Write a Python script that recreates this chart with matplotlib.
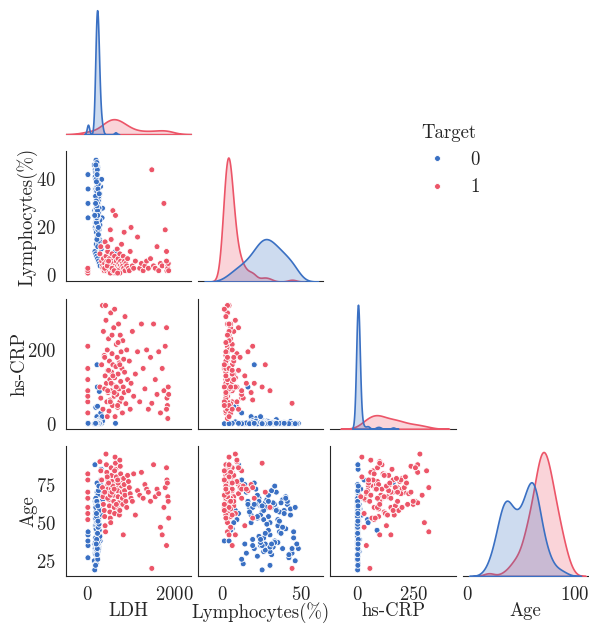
import numpy as np
import pandas as pd
import seaborn as sns
import matplotlib
matplotlib.use("Agg")
import matplotlib.pyplot as plt

# rows: LDH, Lymphocytes(%), hs-CRP, Age  -- Target 0
blue_rows = [
    (3, 42, 1, 27), (5, 24, 2, 35), (2, 1, 1, 38), (4, 30, 3, 42), (6, 36, 2, 44),
    (150, 46, 0.5, 25), (170, 44, 1, 30), (190, 48, 2, 33), (210, 47, 1, 36), (230, 45, 3, 40),
    (180, 43, 1.5, 55), (200, 41, 2, 62), (220, 39, 4, 58), (240, 38, 1, 65), (175, 36, 2, 48),
    (195, 35, 6, 52), (215, 34, 1, 70), (235, 33, 3, 38), (255, 32, 2, 34), (185, 31, 1, 29),
    (205, 30, 5, 31), (225, 29, 2, 45), (245, 28, 8, 60), (265, 27, 1, 63), (160, 27, 3, 36),
    (180, 26, 2, 40), (200, 25, 10, 57), (220, 24, 1, 61), (240, 23, 4, 66), (260, 22, 2, 68),
    (280, 21, 15, 72), (170, 20, 3, 33), (190, 19, 1, 35), (210, 18, 20, 55), (230, 17, 5, 60),
    (250, 16, 2, 64), (270, 15, 2, 70), (290, 14, 1, 75), (300, 12, 30, 78), (310, 11, 3, 85),
    (165, 10, 2, 88), (185, 9, 45, 52), (205, 8, 6, 58), (225, 7, 48, 50), (245, 6, 2, 46),
    (265, 5, 88, 45), (285, 4, 1, 38), (195, 13, 3, 23), (215, 22, 2, 28), (235, 26, 8, 31),
    (255, 29, 1, 54), (275, 34, 12, 59), (295, 37, 3, 63), (320, 40, 2, 67), (340, 28, 8, 65),
    (330, 24, 20, 55), (210, 31, 4, 60), (190, 33, 4, 62), (230, 35, 1, 37), (250, 38, 2, 33),
    (170, 41, 3, 64), (210, 43, 7, 59), (213, 20, 160, 76), (220, 16, 100, 62), (240, 14, 2, 36),
    (260, 19, 9, 39), (280, 23, 1, 41), (200, 27, 4, 32), (220, 30, 2, 34), (240, 32, 0.5, 63),
    (195, 28, 1, 60), (205, 26, 3, 58), (215, 25, 2, 35), (225, 24, 1, 37), (235, 29, 6, 68),
    (245, 31, 2, 71), (255, 33, 4, 74), (190, 36, 1, 57), (180, 22, 2, 53), (200, 18, 5, 50),
    (210, 15, 3, 30), (230, 12, 1, 26), (640, 10, 2, 56), (205, 45, 2, 44), (185, 40, 1, 66),
    (215, 37, 3, 43), (195, 23, 2, 64), (225, 21, 8, 62), (235, 19, 4, 60), (245, 17, 1, 57),
    (190, 40, 1, 46), (210, 35, 2, 48), (230, 30, 1, 50), (250, 26, 3, 52), (200, 22, 0.5, 54),
    (220, 44, 2, 33), (240, 38, 1, 47), (180, 33, 2, 37), (260, 28, 1, 49), (205, 24, 4, 39),
    (215, 42, 1, 29), (235, 36, 2, 51), (195, 31, 3, 36), (225, 27, 1, 43), (245, 20, 2, 62),
    (185, 46, 1, 60), (265, 34, 2, 58), (210, 29, 1, 64), (230, 25, 3, 61), (200, 39, 2, 56),
    (160, 25, 1, 19), (180, 30, 2, 22),
]

# Target 1
red_rows = [
    (0, 2, 120, 82), (0, 1, 60, 78), (0, 3, 210, 70), (0, 2, 90, 66), (0, 1, 150, 60),
    (0, 2, 30, 56), (0, 3, 75, 52), (280, 9, 100, 90), (300, 12, 70, 84), (320, 6, 160, 78),
    (340, 4, 320, 73), (350, 3, 40, 67), (360, 7, 250, 62), (380, 2, 185, 58), (390, 5, 95, 54),
    (400, 14, 130, 48), (410, 3, 320, 44), (420, 8, 280, 95), (430, 2, 110, 88), (440, 6, 60, 83),
    (450, 4, 200, 79), (460, 10, 145, 75), (470, 3, 85, 72), (480, 5, 230, 69), (490, 2, 35, 65),
    (500, 7, 170, 61), (510, 4, 120, 57), (520, 19, 65, 53), (530, 3, 300, 50), (540, 6, 90, 86),
    (550, 2, 140, 81), (560, 9, 190, 77), (570, 4, 50, 74), (580, 27, 160, 70), (590, 3, 105, 68),
    (600, 5, 260, 64), (610, 2, 75, 60), (620, 8, 125, 56), (630, 4, 20, 93), (640, 25, 100, 89),
    (650, 3, 155, 85), (660, 6, 215, 80), (670, 2, 80, 76), (680, 11, 180, 73), (690, 4, 45, 71),
    (700, 7, 135, 67), (710, 3, 270, 63), (720, 5, 95, 59), (730, 2, 165, 55), (740, 9, 60, 91),
    (750, 4, 240, 87), (760, 6, 115, 82), (770, 3, 195, 78), (780, 13, 70, 74), (790, 2, 150, 70),
    (800, 5, 30, 66), (810, 4, 225, 62), (820, 8, 100, 42), (830, 3, 175, 79), (840, 18, 85, 75),
    (850, 6, 140, 71), (860, 2, 290, 68), (880, 5, 55, 64), (900, 4, 200, 60), (920, 7, 120, 81),
    (940, 3, 90, 77), (960, 2, 170, 73), (980, 10, 40, 69), (1000, 20, 110, 66), (1030, 4, 250, 64),
    (1060, 3, 75, 82), (1100, 6, 135, 55), (1150, 16, 195, 71), (1200, 3, 60, 68), (1240, 5, 270, 83),
    (1280, 2, 150, 66), (1320, 4, 95, 75), (1360, 6, 200, 72), (1400, 3, 40, 70), (1450, 7, 180, 64),
    (1480, 44, 56, 20), (1520, 4, 270, 88), (1560, 3, 120, 67), (1600, 12, 80, 72), (1640, 2, 195, 69),
    (1680, 5, 30, 47), (1720, 4, 150, 42), (1760, 30, 90, 60), (1790, 19, 210, 73), (1820, 10, 260, 86),
    (1830, 2, 70, 78), (1840, 4, 50, 76), (1850, 3, 15, 67), (1860, 5, 100, 64), (1870, 2, 80, 53),
    (1820, 6, 40, 35), (540, 15, 110, 72), (460, 12, 90, 66), (620, 1, 310, 84), (700, 2, 220, 76),
    (390, 3, 180, 70), (520, 1, 60, 68), (580, 2, 130, 74), (660, 1, 100, 62), (450, 4, 20, 80),
    (740, 1, 160, 58), (560, 3, 240, 70), (610, 2, 85, 72), (480, 6, 145, 76), (690, 1, 50, 78),
]

columns = ["LDH", "Lymphocytes(%)", "hs-CRP", "Age"]
palette = {0: "#3a70c3", 1: "#ec5568"}

df0 = pd.DataFrame(blue_rows, columns=columns)
df0["Target"] = 0
df1 = pd.DataFrame(red_rows, columns=columns)
df1["Target"] = 1
df = pd.concat([df0, df1], ignore_index=True)

sns.set_style("white")
plt.rcParams["font.family"] = ["cmr10", "DejaVu Serif"]
plt.rcParams["mathtext.fontset"] = "cm"
plt.rcParams["axes.formatter.use_mathtext"] = True
plt.rcParams["font.size"] = 13.5
plt.rcParams["axes.labelsize"] = 13.5
plt.rcParams["xtick.labelsize"] = 13.5
plt.rcParams["ytick.labelsize"] = 13.5

g = sns.pairplot(df, hue="Target", palette=palette, corner=True, height=1.4,
                 plot_kws=dict(s=18, linewidth=0.6),
                 diag_kws=dict(linewidth=1.2))

fig = g.figure
fig.set_size_inches(5.89, 6.27)
fig.subplots_adjust(left=0.112, right=0.998, bottom=0.0813, top=0.9936,
                    wspace=0.056, hspace=0.131)

xlims = [(-505, 2390), (-15.6, 63.9), (-121, 440), (-4.5, 111.8)]
ylims = [None, (-2.5, 51.7), (-12.7, 338.7), (15, 100.4)]
for j, lim in enumerate(xlims):
    g.axes[3, j].set_xlim(lim)
    g.axes[3, j].xaxis.labelpad = -1
g.axes[3, 0].set_xticks([0, 2000])
g.axes[3, 1].set_xticks([0, 50])
g.axes[3, 2].set_xticks([0, 250])
g.axes[3, 3].set_xticks([0, 100])
for i in range(1, 4):
    g.axes[i, 0].set_ylim(ylims[i])
    g.axes[i, 0].yaxis.labelpad = -1
g.axes[1, 0].set_yticks([0, 20, 40])
g.axes[2, 0].set_yticks([0, 200])
g.axes[3, 0].set_yticks([25, 50, 75])

sns.move_legend(g, "center", bbox_to_anchor=(0.762, 0.745), frameon=False,
                fontsize=13.5, title_fontsize=13.5)

fig.savefig("out.png", dpi=100)
